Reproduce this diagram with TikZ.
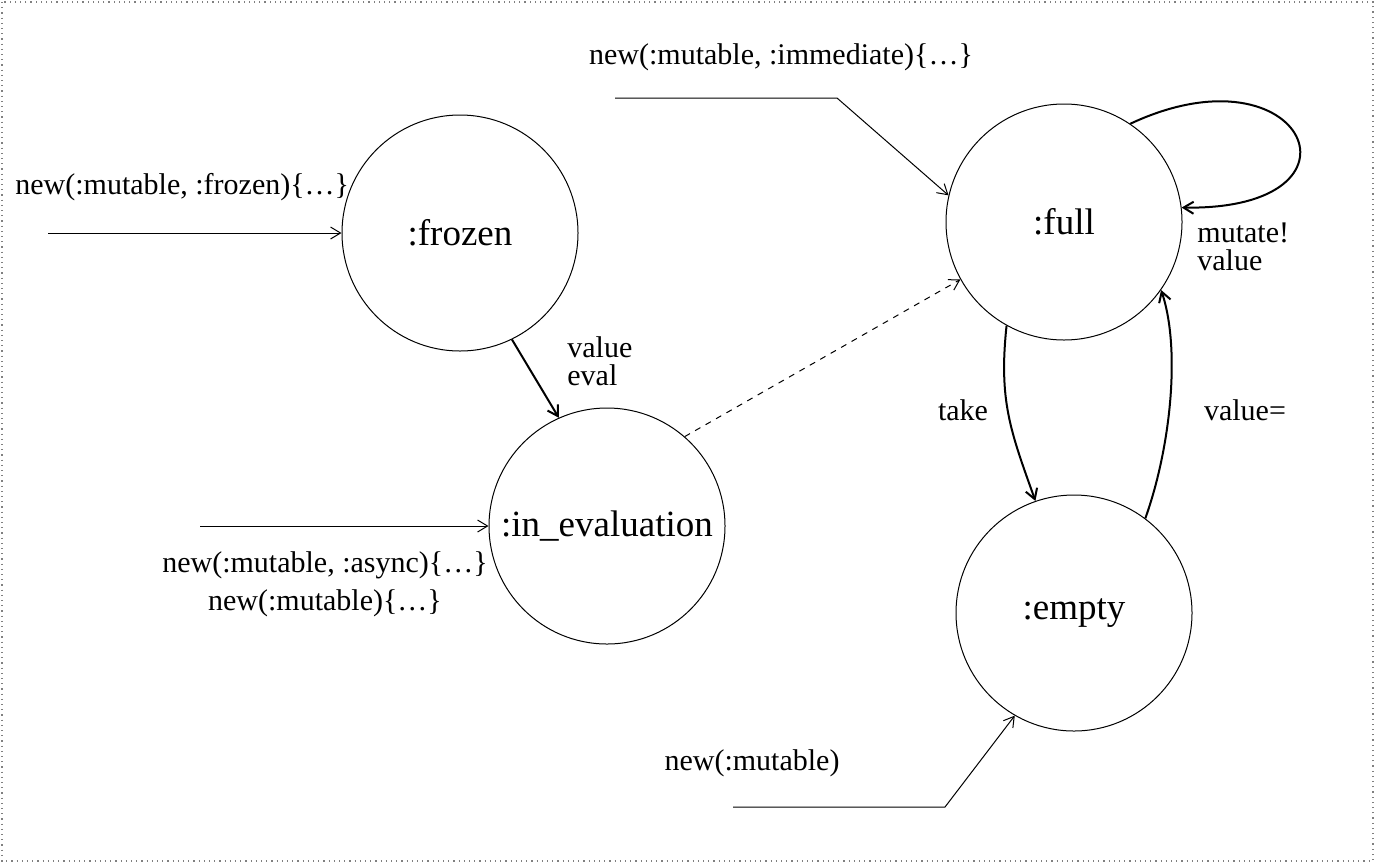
\documentclass[tikz,border=0pt]{standalone}
\usepackage{fontspec}
\setmainfont{Liberation Serif}
\usetikzlibrary{arrows.meta}

\begin{document}
\begin{tikzpicture}[
    x=0.5pt, y=-0.5pt,
    state/.style={circle, draw, line width=0.5pt, minimum size=118pt, inner sep=0pt, font=\fontsize{18.5}{22}\selectfont},
    lbl/.style={inner sep=0pt, font=\fontsize{15}{19}\selectfont},
    edgelbl/.style={inner sep=0pt, align=left, font=\fontsize{15}{14}\selectfont},
    entry/.style={line width=0.5pt, -{Straight Barb[length=5pt, width=6pt]}},
    trans/.style={line width=1pt, -{Straight Barb[length=5pt, width=6pt]}}
]
\useasboundingbox (0,0) rectangle (1375,863);
\draw[gray, dotted, line width=0.6pt] (2,2) rectangle (1373,861);

% ---------- States ----------
\node[state] (frozen) at (460,233) {:frozen};
\node[state] (eval) at (607,526) {:in\_evaluation};
\node[state] (full) at (1064,222) {:full};
\node[state] (empty) at (1074,613) {:empty};

% ---------- Constructors ----------
\node[lbl, anchor=west] (frozenlbl) at (15,187) {new(:mutable, :frozen)\{…\}};
\coordinate (frozenstart) at (48,233);
\draw[entry] (frozenstart) -- (frozen);

\node[lbl] (immlbl) at (781,57) {new(:mutable, :immediate)\{…\}};
\coordinate (immstart) at (615,98);
\coordinate (immbend) at (837,98);
\draw[entry] (immstart) -- (immbend) -- (full.167);

\node[lbl, align=center] (asynclbl) at (325,584) {new(:mutable, :async)\{…\}\\new(:mutable)\{…\}};
\coordinate (evalstart) at (200,526);
\draw[entry] (evalstart) -- (eval);

\node[lbl] (mutlbl) at (752,763) {new(:mutable)};
\coordinate (mutstart) at (733,807);
\coordinate (mutbend) at (945,807);
\draw[entry] (mutstart) -- (mutbend) -- (empty.240);

% ---------- Transitions ----------
\draw[trans] (frozen.296) -- (eval.114);
\node[edgelbl, anchor=west] (evallbl) at (567,361) {value\\eval};

\draw[entry, dashed] (eval.49) -- (full.209);

\draw[trans] (full.241) .. controls +(-8,75) and +(-25,-70) .. (empty.109);
\node[edgelbl] (takelbl) at (963,410) {take};

\draw[trans] (empty.53) .. controls +(25,-70) and +(20,60) .. (full.325);
\node[edgelbl] (setlbl) at (1245,410) {value=};

\draw[trans] (full.56) .. controls +(175,-82) and +(198,3) .. (full.7);
\node[edgelbl, anchor=west] (mutatelbl) at (1197,247) {mutate!\\value};

\end{tikzpicture}
\end{document}
